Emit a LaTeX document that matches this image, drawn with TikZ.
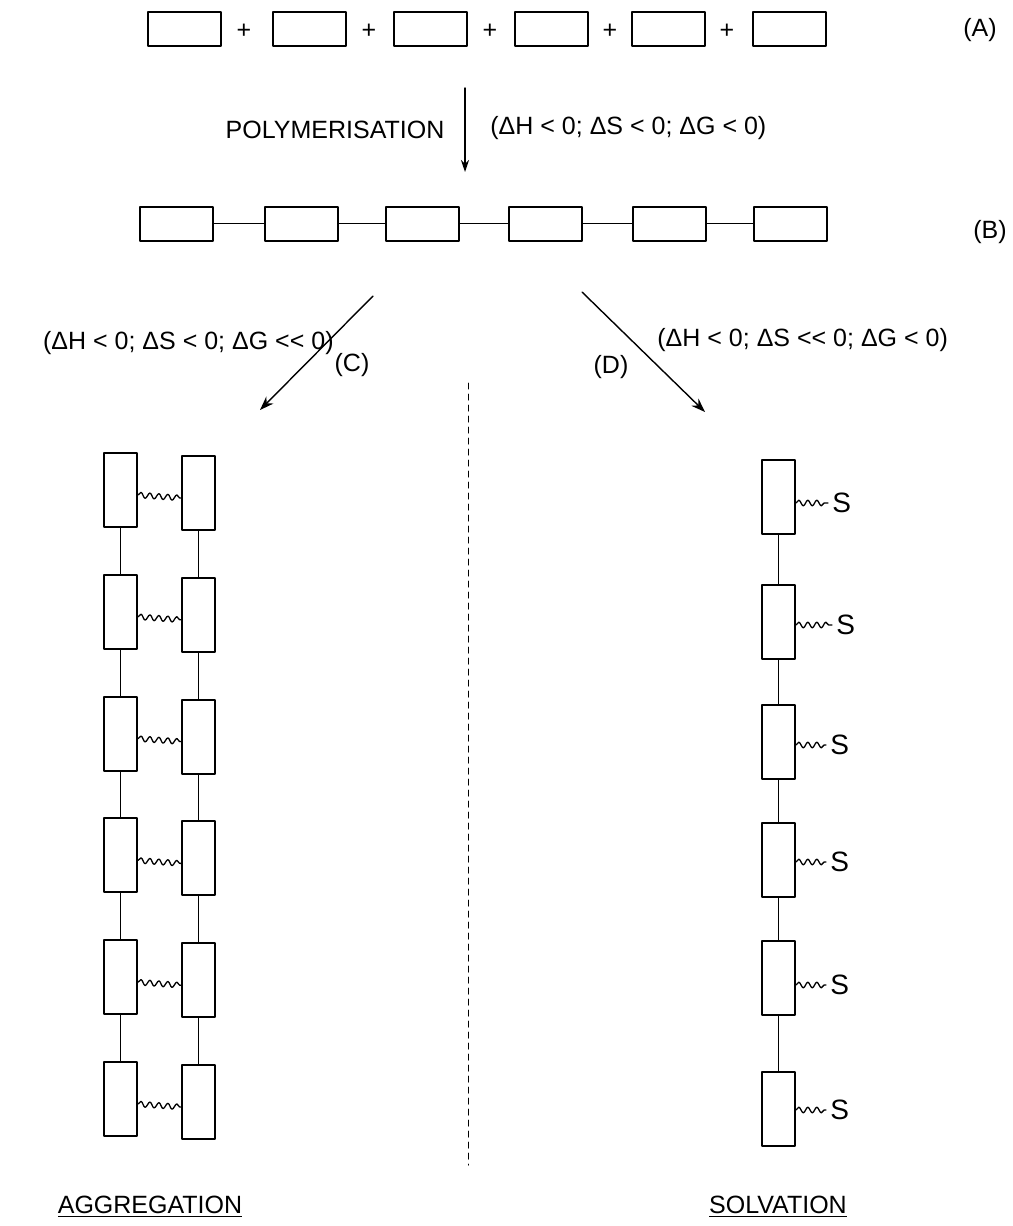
\documentclass[tikz,border=0pt]{standalone}
\usepackage{fontspec}
\setmainfont{Liberation Sans}
\usetikzlibrary{arrows.meta, decorations.pathmorphing}

\tikzset{
  unit/.style={draw, line width=1pt, minimum width=36.5pt, minimum height=17pt, inner sep=0pt},
  vunit/.style={draw, line width=1pt, minimum width=16.5pt, minimum height=37pt, inner sep=0pt},
  txt/.style={font=\fontsize{12.5}{15}\selectfont, inner sep=1pt},
  solvent/.style={font=\fontsize{14}{16}\selectfont, anchor=west, inner sep=0pt},
  link/.style={line width=0.7pt},
  wave/.style={line width=0.65pt, decorate, decoration={snake, amplitude=1.4pt, segment length=4.5pt}},
}

\begin{document}
\begin{tikzpicture}[>={Stealth[length=7pt, width=5pt]}, x=0.5pt, y=-0.5pt, line cap=round, line join=round]
    \useasboundingbox (0,0) rectangle (1012,1226);

    % Monomers (A)
    \foreach \i/\x in {1/184.5, 2/309, 3/430, 4/551.5, 5/668, 6/789}
        \node[unit] (a\i) at (\x,29) {};
    \foreach \i/\x in {1/244, 2/369, 3/490, 4/610, 5/727}
        \node[txt] (p\i) at (\x,31) {+};
    \node[txt] (labA) at (980,30) {(A)};

    % Polymerisation step
    \coordinate (polyTop) at (465,88);
    \coordinate (polyEnd) at (465,172);
    \draw[-{Stealth[length=6pt, width=4pt]}, line width=0.7pt] (polyTop) -- (polyEnd);
    \node[txt] (poly) at (335,130) {POLYMERISATION};
    \node[txt, anchor=west] (thermoB) at (488,128) {(ΔH < 0; ΔS < 0; ΔG < 0)};

    % Chain (B)
    \foreach \i/\x in {1/176.5, 2/301, 3/422, 4/545, 5/669, 6/790}
        \node[unit] (b\i) at (\x,223.5) {};
    \foreach \i [evaluate=\i as \j using int(\i+1)] in {1,...,5}
        \draw[link] (b\i) -- (b\j);
    \node[txt] (labB) at (990,232) {(B)};

    % Branches (C) and (D)
    \coordinate (cTop) at (373,296);
    \coordinate (cEnd) at (260,410);
    \coordinate (dTop) at (582,292);
    \coordinate (dEnd) at (705,412);
    \draw[->, line width=0.7pt] (cTop) -- (cEnd);
    \draw[->, line width=0.7pt] (dTop) -- (dEnd);
    \node[txt, anchor=east] (thermoC) at (336,343) {(ΔH < 0; ΔS < 0; ΔG <{}< 0)};
    \node[txt] (labC) at (352,365) {(C)};
    \node[txt] (labD) at (611,367) {(D)};
    \node[txt, anchor=west] (thermoD) at (655,340) {(ΔH < 0; ΔS <{}< 0; ΔG < 0)};

    % Separator
    \coordinate (sepTop) at (468,383);
    \coordinate (sepEnd) at (468,1165);
    \draw[dashed, line width=0.5pt, dash pattern=on 3pt off 2.5pt] (sepTop) -- (sepEnd);

    % Aggregation: two chains held by weak bonds
    \foreach \i in {1,...,6} {
        \node[vunit] (agL\i) at (120.5, {490+121.8*(\i-1)}) {};
        \node[vunit] (agR\i) at (198.5, {493+121.8*(\i-1)}) {};
        \draw[wave] ([yshift=-2.5pt]agL\i.east) -- ([yshift=-2.5pt]agR\i.west);
    }
    \foreach \i [evaluate=\i as \j using int(\i+1)] in {1,...,5} {
        \draw[link] (agL\i) -- (agL\j);
        \draw[link, line width=0.9pt] (agR\i) -- (agR\j);
    }
    \node[txt] (aggr) at (150,1207) {\underline{AGGREGATION}};

    % Solvation: one chain with solvent S
    \foreach \i/\y/\w/\sx in {1/497/503/832, 2/622/625/836, 3/742/745/830, 4/860/862/830, 5/978/985/830, 6/1109/1110/830} {
        \node[vunit] (sv\i) at (778.5,\y) {};
        \node[solvent] (s\i) at (\sx,\w) {S};
        \draw[wave] (sv\i.east |- s\i.west) -- ([xshift=-2pt]s\i.west);
    }
    \foreach \i [evaluate=\i as \j using int(\i+1)] in {1,...,5}
        \draw[link, line width=0.9pt] (sv\i) -- (sv\j);
    \node[txt] (solv) at (778,1207) {\underline{SOLVATION}};
\end{tikzpicture}
\end{document}
